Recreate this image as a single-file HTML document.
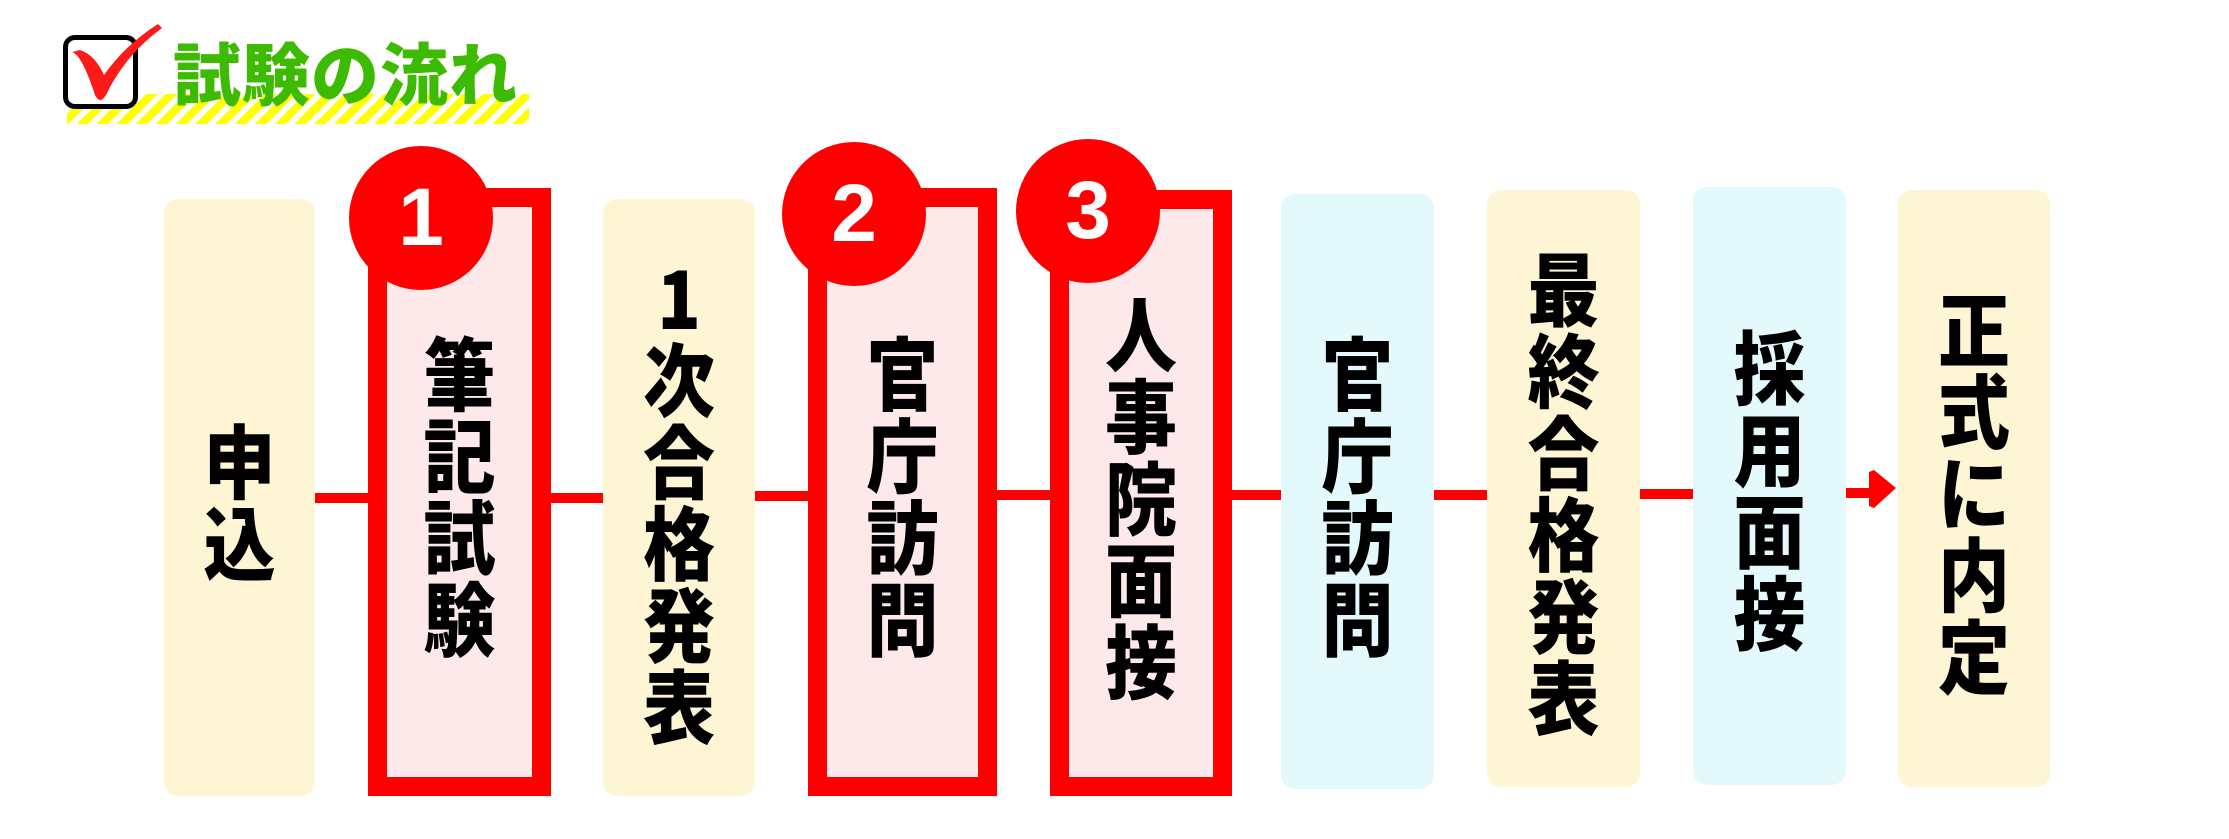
<!DOCTYPE html>
<html><head><meta charset="utf-8"><style>
body{margin:0;width:2229px;height:839px;background:#fff;position:relative;overflow:hidden;font-family:"Liberation Sans","Noto Sans CJK JP",sans-serif}
.a{position:absolute}
.box{position:absolute;border-radius:14px;display:flex;align-items:center;justify-content:center}
.cr{background:#fdf5d4}.cy{background:#e3f9fc}
.rb{position:absolute;background:#fde8ea;border:19px solid #ff0000;box-sizing:border-box;display:flex;align-items:center;justify-content:center}
.v{display:flex;flex-direction:column;align-items:center;font-family:"Noto Sans CJK JP",sans-serif;font-weight:900;font-size:72px;color:#000;transform:scaleY(1.12)}
.v span{display:block;line-height:73px;height:73px}
.ln{position:absolute;background:#ff0000;height:10px}
.c{position:absolute;width:144px;height:144px;border-radius:50%;background:#ff0000;color:#fff;font-family:"Liberation Sans",sans-serif;font-weight:bold;font-size:82px;display:flex;align-items:center;justify-content:center}
</style></head><body>
<div class="a" style="left:67px;top:94px;width:462px;height:30px;background:repeating-linear-gradient(135deg,#ffff00 0 8px,#fff 8px 14px)"></div>
<div class="a" style="left:63px;top:35px;width:75px;height:74px;border:5px solid #000;border-radius:12px;box-sizing:border-box;background:#fff"></div>
<svg class="a" style="left:60px;top:10px" width="110" height="100"><path d="M12 42 Q22 45 35 85 Q40 95 46 85 Q65 45 102 18 L98 14 Q65 35 44 65 Q35 45 20 40 Z" fill="#ff1a1a"/></svg>
<div class="a" style="left:173px;top:26px;font-family:'Noto Sans CJK JP',sans-serif;font-weight:900;font-size:68px;color:#3dbb00;line-height:90px;letter-spacing:1px">試験の流れ</div>

<div class="ln" style="left:315px;top:493px;width:60px"></div>
<div class="ln" style="left:551px;top:493px;width:60px"></div>
<div class="ln" style="left:755px;top:491px;width:60px"></div>
<div class="ln" style="left:997px;top:490px;width:60px"></div>
<div class="ln" style="left:1232px;top:490px;width:50px"></div>
<div class="ln" style="left:1434px;top:490px;width:54px"></div>
<div class="ln" style="left:1640px;top:489px;width:54px"></div>
<div class="ln" style="left:1846px;top:488px;width:30px"></div>
<svg class="a" style="left:1866px;top:468px" width="34" height="42"><path d="M3 4 L8 2 L30 20 L8 40 L3 38 Z" fill="#ff0000"/></svg>

<div class="box cr" style="left:164px;top:199px;width:151px;height:597px"><div class="v"><span>申</span><span>込</span></div></div>
<div class="rb" style="left:368px;top:188px;width:183px;height:608px"><div class="v"><span>筆</span><span>記</span><span>試</span><span>験</span></div></div>
<div class="box cr" style="left:603px;top:199px;width:152px;height:597px"><div class="v"><span>1</span><span>次</span><span>合</span><span>格</span><span>発</span><span>表</span></div></div>
<div class="rb" style="left:808px;top:188px;width:189px;height:608px"><div class="v"><span>官</span><span>庁</span><span>訪</span><span>問</span></div></div>
<div class="rb" style="left:1050px;top:190px;width:182px;height:606px"><div class="v"><span>人</span><span>事</span><span>院</span><span>面</span><span>接</span></div></div>
<div class="box cy" style="left:1281px;top:194px;width:153px;height:595px"><div class="v"><span>官</span><span>庁</span><span>訪</span><span>問</span></div></div>
<div class="box cr" style="left:1487px;top:190px;width:153px;height:597px"><div class="v"><span>最</span><span>終</span><span>合</span><span>格</span><span>発</span><span>表</span></div></div>
<div class="box cy" style="left:1693px;top:187px;width:153px;height:598px"><div class="v"><span>採</span><span>用</span><span>面</span><span>接</span></div></div>
<div class="box cr" style="left:1898px;top:190px;width:152px;height:597px"><div class="v"><span>正</span><span>式</span><span>に</span><span>内</span><span>定</span></div></div>

<div class="c" style="left:349px;top:146px">1</div>
<div class="c" style="left:782px;top:142px">2</div>
<div class="c" style="left:1016px;top:139px">3</div>
</body></html>
